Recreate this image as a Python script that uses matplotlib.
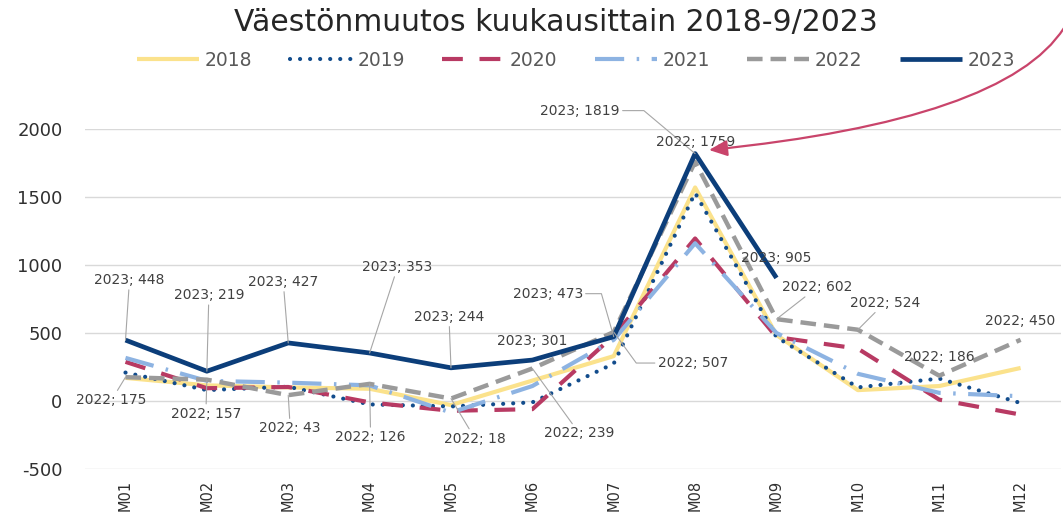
import matplotlib
matplotlib.use("Agg")
import matplotlib.pyplot as plt
from matplotlib.path import Path
from matplotlib.patches import FancyArrowPatch
import numpy as np

# ---------------- data ----------------
months = ['M01', 'M02', 'M03', 'M04', 'M05', 'M06', 'M07', 'M08', 'M09', 'M10', 'M11', 'M12']
years = ['2018', '2019', '2020', '2021', '2022', '2023']
v2018 = [170, 115, 100, 90, -30, 150, 330, 1570, 485, 80, 110, 243]
v2019 = [209, 80, 105, -25, -40, -10, 275, 1530, 470, 100, 165, -15]
v2020 = [288, 94, 103, -10, -72, -60, 480, 1195, 470, 385, 10, -100]
v2021 = [317, 148, 135, 115, -85, 110, 450, 1160, 500, 200, 60, 35]
v2022 = [175, 157, 43, 126, 18, 239, 507, 1759, 602, 524, 186, 450]
v2023 = [448, 219, 427, 353, 244, 301, 473, 1819, 905]
yticks = [-500, 0, 500, 1000, 1500, 2000]
title = 'Väestönmuutos kuukausittain 2018-9/2023'

series = [v2018, v2019, v2020, v2021, v2022, v2023]

# ---------------- styles ----------------
styles = [
    dict(color='#FBE28C', lw=3.0, ls='-', solid_capstyle='butt'),
    dict(color='#124C8C', lw=3.0, ls=(0, (0.01, 2.4)), dash_capstyle='round'),
    dict(color='#B83A63', lw=3.0, ls=(0, (5, 4))),
    dict(color='#8DB3E2', lw=3.0, ls=(0, (7, 3, 0.6, 3))),
    dict(color='#9A9A9A', lw=3.2, ls=(0, (3.5, 1.8))),
    dict(color='#0C3E7A', lw=3.4, ls='-', solid_capstyle='butt'),
]

plt.rcParams['font.family'] = ['DejaVu Sans']

W, H = 1063, 514
fig = plt.figure(figsize=(W / 100, H / 100), dpi=100)
left_px, right_px, top_px, bot_px = 84.8, 1061.3, 129, 469
ax = fig.add_axes([left_px / W, (H - bot_px) / H, (right_px - left_px) / W, (bot_px - top_px) / H])

x = np.arange(len(months))
handles = []
for yr, vals, st in zip(years, series, styles):
    h, = ax.plot(x[:len(vals)], vals, label=yr, **st)
    handles.append(h)

ax.set_xlim(-0.5, len(months) - 0.5)
ax.set_ylim(-500, 2000)
ax.set_yticks(yticks)
ax.set_yticklabels([str(t) for t in yticks], fontsize=13, color='#303030')
ax.set_xticks(x)
ax.set_xticklabels(months, rotation=90, fontsize=10.5, color='#303030')
ax.tick_params(axis='both', length=0)
ax.tick_params(axis='y', pad=16)
ax.tick_params(axis='x', pad=8)
for s in ax.spines.values():
    s.set_visible(False)
ax.grid(axis='y', color='#D9D9D9', lw=1.0)
ax.set_axisbelow(True)

# ---------------- title & legend ----------------
fig.text(556 / W, 1 - 23 / H, title, ha='center', va='center', fontsize=21.5, color='#262626')
leg = fig.legend(handles=handles, loc='center', bbox_to_anchor=(576 / W, 1 - 60 / H),
                 ncol=6, frameon=False, fontsize=13.5, handlelength=3.3,
                 handletextpad=0.3, columnspacing=2.0)
for t in leg.get_texts():
    t.set_color('#595959')

# ---------------- data labels ----------------
lead = dict(arrowstyle='-', color='#A6A6A6', lw=0.8, shrinkA=0, shrinkB=0)
# (series index, month index, dx px, dy px (image down positive), leader, relpos, connection)
labels = [
    (5, 0, 4, -60, True, None, None),
    (5, 1, 2, -76, True, None, None),
    (5, 2, -5, -61, True, None, None),
    (5, 3, 28, -86, True, None, None),
    (5, 4, -2, -51, True, None, None),
    (5, 5, 0, -19, False, None, None),
    (5, 6, -66, -43, True, (1, 0.5), 'angle,angleA=0,angleB=106,rad=0'),
    (5, 7, -115, -43, True, (1, 0.5), 'angle,angleA=0,angleB=140,rad=0'),
    (4, 7, 1, -20, False, None, None),
    (5, 8, 0, -20, False, None, None),
    (4, 8, 41, -32, True, None, None),
    (4, 9, 27, -27, True, None, None),
    (4, 10, 0, -19, False, None, None),
    (4, 11, 0, -19, False, None, None),
    (4, 6, 79, 31, True, (0, 0.5), 'angle,angleA=0,angleB=-54,rad=0'),
    (4, 0, -14, 23, True, None, None),
    (4, 1, -1, 34, True, None, None),
    (4, 2, 2, 33, True, None, None),
    (4, 3, 1, 53, True, None, None),
    (4, 4, 24, 40, True, None, None),
    (4, 5, 47, 65, True, None, None),
]
for si, mi, dx, dy, has_lead, relpos, conn in labels:
    val = series[si][mi]
    kw = {}
    if has_lead:
        ap = dict(lead)
        if relpos is not None:
            ap['relpos'] = relpos
        if conn is not None:
            ap['connectionstyle'] = conn
        kw['arrowprops'] = ap
    ax.annotate(f'{years[si]}; {val}', xy=(mi, val), xytext=(dx, -dy),
                textcoords='offset pixels', ha='center', va='center',
                fontsize=10, color='#404040', annotation_clip=False, zorder=5, **kw)

# ---------------- pink arrow (figure pixel positions, image y down) ----------------
def fpt(px, py):
    return (px / W, 1 - py / H)

arrow_path = Path([fpt(1064, 28), fpt(1005, 120), fpt(709, 150)],
                  [Path.MOVETO, Path.CURVE3, Path.CURVE3])
fig.patches.append(FancyArrowPatch(
    path=arrow_path, transform=fig.transFigure,
    arrowstyle='-|>,head_length=5,head_width=2.2',
    color='#C9446B', lw=1.6, mutation_scale=2.2, clip_on=False))

fig.savefig('out.png', dpi=100)
